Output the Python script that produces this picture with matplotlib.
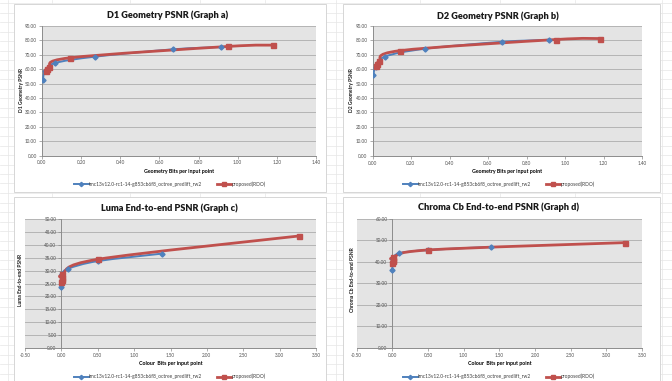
import numpy as np
import matplotlib
matplotlib.use("Agg")
from matplotlib import pyplot as plt
from matplotlib.path import Path
from matplotlib.patches import PathPatch, Rectangle

plt.rcParams['font.family'] = ['Lato', 'DejaVu Sans']

# --- data ---
blue_name = 'tmc13v12.0-rc1-14-g853cb6f8_octree_predlift_rw2'
red_name = 'proposed(RDO)'

geo_blue_x = [0.004, 0.016, 0.065, 0.272, 0.671, 0.916]
geo_red_x = [0.019, 0.024, 0.036, 0.143, 0.952, 1.182]
d1_blue = [52.8, 58.5, 64.2, 68.7, 73.8, 75.4]
d1_red = [58.8, 59.8, 61.4, 67.9, 75.8, 76.7]
d2_blue = [55.8, 61.5, 68.8, 74.2, 79.0, 80.4]
d2_red = [62.3, 63.7, 65.5, 72.9, 80.6, 81.3]

col_blue_x = [0.0, 0.003, 0.012, 0.097, 0.504, 1.389]
col_red_x = [0.001, 0.002, 0.005, 0.012, 0.505, 3.26]
luma_blue = [23.8, 26.5, 28.8, 30.8, 33.7, 36.6]
luma_red = [25.6, 26.4, 27.2, 28.6, 34.4, 43.4]
cb_blue = [36.1, 39.5, 41.5, 44.0, 45.5, 46.9]
cb_red = [39.5, 40.3, 41.0, 42.0, 45.5, 48.9]

BLUE = '#4F81BD'
RED = '#C0504D'
W, H = 672, 381


def rect(l, t, r, b):
    return [l / W, 1 - b / H, (r - l) / W, (b - t) / H]


def smooth_line(ax, xs, ys, color, lw):
    # excel-style smoothed line: cubic bezier through the points
    p = np.column_stack([xs, ys]).astype(float)
    n = len(p)
    verts = [p[0]]
    codes = [Path.MOVETO]
    for i in range(n - 1):
        p0 = p[max(i - 1, 0)]
        p1, p2 = p[i], p[i + 1]
        p3 = p[min(i + 2, n - 1)]
        verts += [p1 + (p2 - p0) / 6, p2 - (p3 - p1) / 6, p2]
        codes += [Path.CURVE4] * 3
    ax.add_patch(PathPatch(Path(verts, codes), fill=False, edgecolor=color,
                           lw=lw, capstyle='round', joinstyle='round', zorder=3))


def chart(box, title, tx, ty, xlabel, ylabel, ylx, yly, lx, ly,
          bx, by, rx, ry, xlim, xstep, ylim, ystep, yaxis_at_zero):
    ax = fig.add_axes(rect(*box))
    ax.set_facecolor('#e4e4e4')
    ax.set_xlim(*xlim)
    ax.set_ylim(*ylim)
    ax.set_xticks(np.arange(xlim[0], xlim[1] + 1e-9, xstep))
    ax.set_yticks(np.arange(ylim[0], ylim[1] + 1e-9, ystep))
    ax.xaxis.set_major_formatter(matplotlib.ticker.FormatStrFormatter('%.2f'))
    ax.yaxis.set_major_formatter(matplotlib.ticker.FormatStrFormatter('%.2f'))
    ax.grid(axis='y', color='#b4b4b4', lw=0.7)
    ax.set_axisbelow(True)
    for s in ['top', 'right']:
        ax.spines[s].set_visible(False)
    for s in ['left', 'bottom']:
        ax.spines[s].set_color('#8c8c8c')
        ax.spines[s].set_linewidth(0.7)
    if yaxis_at_zero:
        ax.spines['left'].set_position(('data', 0))
    ax.tick_params(labelsize=3.3, colors='#8c8c8c', labelcolor='#505050',
                   length=2, width=0.5, pad=1.5)

    smooth_line(ax, bx, by, BLUE, 1.4)
    smooth_line(ax, rx, ry, RED, 2.0)
    ax.plot(bx, by, ls='none', marker='D', ms=2.6, color=BLUE, zorder=4)
    ax.plot(rx, ry, ls='none', marker='s', ms=3.6, color=RED, zorder=4)

    ax.set_xlabel(xlabel, fontsize=3.8, fontweight='bold', labelpad=2.5)
    fig.text(tx / W, 1 - ty / H, title, fontsize=6.6, fontweight='heavy',
             ha='center', va='center', color='#1a1a1a')
    fig.text(ylx / W, 1 - yly / H, ylabel, fontsize=3.6, fontweight='bold',
             rotation=90, ha='center', va='center', color='#1a1a1a')

    lb = plt.Line2D([], [], color=BLUE, lw=1.4, marker='D', ms=2.2)
    lr = plt.Line2D([], [], color=RED, lw=2.0, marker='s', ms=2.8)
    fig.legend([lb, lr], [blue_name, red_name], loc='center',
               bbox_to_anchor=(lx / W, 1 - ly / H), ncol=2, frameon=False,
               fontsize=3.5, handlelength=3.0, handletextpad=0.1,
               columnspacing=3.0, labelcolor='#404040')
    return ax


fig = plt.figure(figsize=(6.72, 3.81), dpi=100)

# spreadsheet cell grid behind the charts
for y in np.arange(3, H, 9.5):
    fig.add_artist(plt.Line2D([0, 1], [1 - y / H] * 2, color='#e6e6e6',
                              lw=0.5, zorder=-3))
for x in [8, 52, 130, 200, 265, 336, 420, 500, 575, 662]:
    fig.add_artist(plt.Line2D([x / W] * 2, [0, 1], color='#e6e6e6',
                              lw=0.5, zorder=-3))

# white chart frames
for l, t, r, b in [(14, 4, 326, 192), (343, 4, 660, 192),
                   (14, 197, 326, 384), (343, 197, 660, 384)]:
    fig.add_artist(Rectangle((l / W, 1 - b / H), (r - l) / W, (b - t) / H,
                             transform=fig.transFigure, facecolor='white',
                             edgecolor='#d0d0d0', lw=0.6, zorder=-2))

chart((42, 26, 316, 155.5), 'D1 Geometry PSNR (Graph a)', 168, 15,
      'Geometry Bits per input point', 'D1 Geometry PSNR', 21, 90, 170, 184,
      geo_blue_x, d1_blue, geo_red_x, d1_red, (0, 1.4), 0.2, (0, 90), 10, False)

chart((372.5, 26, 642, 155.7), 'D2 Geometry PSNR (Graph b)', 498, 16,
      'Geometry Bits per input point', 'D2 Geometry PSNR', 352, 90, 499, 184,
      geo_blue_x, d2_blue, geo_red_x, d2_red, (0, 1.4), 0.2, (0, 90), 10, False)

chart((25, 219, 316, 348), 'Luma End-to-end PSNR (Graph c)', 169, 208,
      'Colour  Bits per input point', 'Luma End-to-end PSNR', 21, 280, 170, 376.7,
      col_blue_x, luma_blue, col_red_x, luma_red, (-0.5, 3.5), 0.5, (0, 50), 5, True)

chart((356.7, 218.7, 642, 348), 'Chroma Cb End-to-end PSNR (Graph d)', 498, 207,
      'Colour  Bits per input point', 'Chroma Cb End-to-end PSNR', 352, 280, 499, 376.7,
      col_blue_x, cb_blue, col_red_x, cb_red, (-0.5, 3.5), 0.5, (0, 60), 10, True)

fig.savefig('out.png', dpi=100)
